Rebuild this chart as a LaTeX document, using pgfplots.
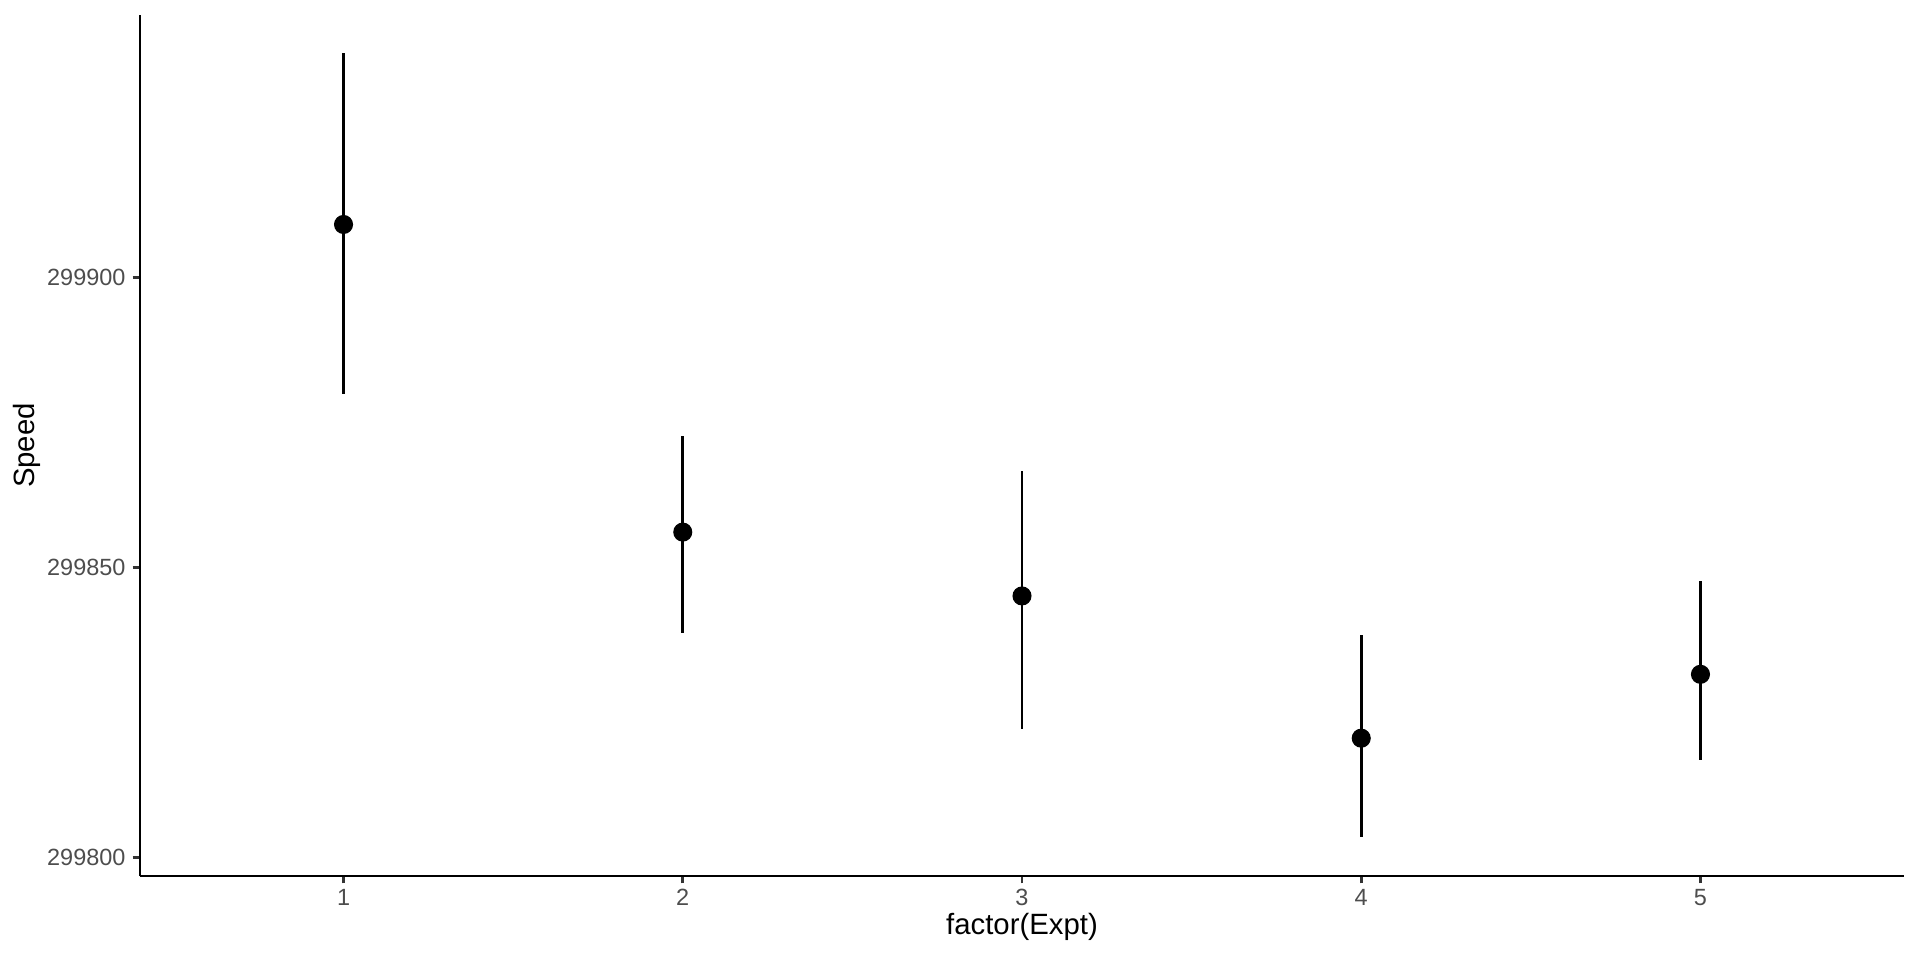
\documentclass[border=0pt]{standalone}
\usepackage{pgfplots}
\usepackage{pgfplotstable}
\pgfplotsset{compat=1.18}
\usepackage{fontspec}
\setmainfont{Liberation Sans}
\definecolor{tickgray}{HTML}{333333}
\definecolor{labgray}{HTML}{4D4D4D}
\pgfplotstableread{
x y ep em
1 299909.1 29.6 29.2
2 299856.1 16.6 17.4
3 299845.1 21.6 22.9
4 299820.6 17.7 17.0
5 299831.6 16.1 14.8
}\speed
\begin{document}
\begin{tikzpicture}
\useasboundingbox (-52.5pt,-31.5pt) rectangle (667.5pt,328.5pt);
\begin{axis}[
  at={(0,0)}, anchor=south west,
  scale only axis,
  width=661.5pt, height=322.9pt,
  xmin=0.4, xmax=5.6,
  ymin=299796.85, ymax=299945.2,
  axis lines*=left,
  axis line style={line width=1.07pt, black, -},
  xtick={1,2,3,4,5},
  xticklabels={1,2,3,4,5},
  ytick={299800,299850,299900},
  yticklabels={299800,299850,299900},
  scaled y ticks=false,
  scaled x ticks=false,
  tick align=outside,
  major tick length=2.75pt,
  tick style={line width=1.07pt, color=tickgray},
  xtick pos=left, ytick pos=left,
  ticklabel style={font=\fontsize{8.8}{10}\selectfont, color=labgray, inner sep=0pt},
  yticklabel style={anchor=east, xshift=-2.5pt},
  xticklabel style={anchor=north, yshift=-2.0pt},
  xlabel={factor(Expt)},
  ylabel={Speed},
  every axis x label/.style={at={(axis description cs:0.5,-0.043)}, anchor=north, inner sep=0pt, font=\fontsize{11}{13}\selectfont},
  every axis y label/.style={at={(axis description cs:-0.072,0.5)}, rotate=90, anchor=north, inner sep=0pt, font=\fontsize{11}{13}\selectfont},
  clip=false,
]
\addplot[only marks, mark=*, mark size=3.375pt, black,
  error bars/.cd, y dir=both, y explicit, error mark=none,
  error bar style={line width=1.07pt, black}]
  table[x=x, y=y, y error plus=ep, y error minus=em] {\speed};
\end{axis}
\end{tikzpicture}
\end{document}
